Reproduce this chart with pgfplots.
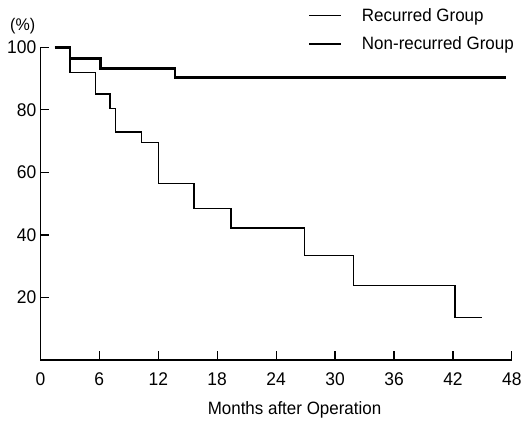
\documentclass[border=0pt]{standalone}
\usepackage{fontspec}
\setmainfont{Liberation Sans}[FakeStretch=0.95]
\usepackage{pgfplots}
\pgfplotsset{compat=1.18}
\begin{document}
\begin{tikzpicture}
\begin{axis}[
  scale only axis,
  width=475.3pt, height=315.3pt,
  xmin=0, xmax=48, ymin=0, ymax=100,
  axis lines=left,
  axis line style={-, line width=1.4pt},
  clip=false,
  xtick={0,6,...,48},
  ytick={20,40,60,80,100},
  tick align=inside,
  major tick length=9pt,
  tick style={line width=1.2pt, black},
  /pgf/number format/assume math mode=true,
  tick label style={font=\fontsize{18.5}{20}\selectfont},
  xticklabel style={inner sep=0pt, anchor=north, yshift=-12pt},
  yticklabel style={inner sep=0pt, anchor=east, xshift=-4pt},
  xlabel={Months after Operation},
  xlabel style={font=\fontsize{18}{20}\selectfont, inner sep=0pt, at={(axis description cs:0.539,0)}, anchor=base, yshift=-55pt},
  ylabel={(\%)},
  ylabel style={font=\fontsize{17}{20}\selectfont, rotate=-90, inner sep=0pt, at={(axis description cs:-0.0375,1.067)}, anchor=center},
  legend style={draw=none, fill=none, inner sep=0pt, font=\fontsize{18}{20}\selectfont,
    at={(axis description cs:0.567,1.056)}, anchor=west, row sep=14.5pt,
    nodes={inner sep=0pt}},
  legend cell align=left,
  /tikz/every odd column/.append style={column sep=20pt},
  legend image code/.code={\draw[#1] (0pt,0pt) -- (32pt,0pt);},
]
\addplot[const plot, line width=1.5pt, black] coordinates {
(1.45,100) (3.0,91.9) (5.6,85.0) (7.1,80.4) (7.65,73.0) (10.3,69.5)
(12.0,56.4) (15.65,48.5) (19.4,42.3) (26.9,33.4) (31.9,23.9) (42.2,13.6) (45.0,13.6)
};
\addlegendentry{Recurred Group}
\addplot[const plot, line width=2.5pt, black] coordinates {
(1.45,100) (3.0,96.4) (6.1,93.2) (13.7,90.3) (47.4,90.3)
};
\addlegendentry{Non-recurred Group}
\coordinate (O) at (rel axis cs:0,0);
\end{axis}
\pgfresetboundingbox
\path[use as bounding box] ([shift={(-40.7pt,-61pt)}]O) rectangle ([shift={(487.5pt,363pt)}]O);
\end{tikzpicture}
\end{document}
